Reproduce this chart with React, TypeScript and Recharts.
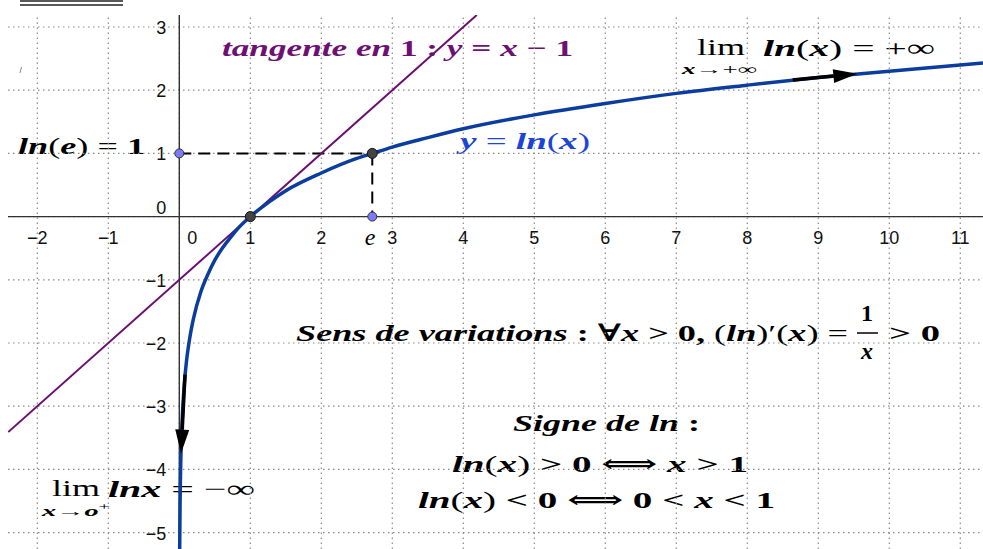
import React from 'react';
import {
  ComposedChart, Line, XAxis, YAxis, ReferenceLine, ReferenceDot,
} from 'recharts';

// ln curve
const lnX = [0.005, 0.01, 0.02, 0.03, 0.05, 0.075, 0.1, 0.15, 0.2, 0.3, 0.4, 0.5, 0.6, 0.7, 0.8, 1, 1.25, 1.5, 2, 2.5, 2.72, 3, 3.5, 4, 5, 6, 7, 8, 9, 10, 11, 11.32];
const lnY = [-5.3, -4.61, -3.91, -3.51, -3.0, -2.59, -2.3, -1.9, -1.61, -1.2, -0.92, -0.69, -0.51, -0.36, -0.22, 0, 0.22, 0.41, 0.69, 0.92, 1, 1.1, 1.25, 1.39, 1.61, 1.79, 1.95, 2.08, 2.2, 2.3, 2.4, 2.43];

// tangent at 1
const tanX = [-2.41, 4.19];
const tanY = [-3.41, 3.19];

// grid / ticks
const xTicks = [-2, -1, 0, 1, 2, 3, 4, 5, 6, 7, 8, 9, 10, 11];
const xTickLabels = ['−2', '−1', '0', '1', '2', '3', '4', '5', '6', '7', '8', '9', '10', '11'];
const yTicks = [-5, -4, -3, -2, -1, 0, 1, 2, 3];
const yTickLabels = ['−5', '−4', '−3', '−2', '−1', '0', '1', '2', '3'];

// marked points
const blueDotsX = [0, 2.718];
const blueDotsY = [1, 0];
const darkDotsX = [1, 2.718];
const darkDotsY = [0, 1];

// dashed guides to (e, 1)
const eX = 2.718;
const eY = 1;

// arrows [from, to]
const arrowsFromX = [8.64, 0.08];
const arrowsFromY = [2.16, -2.5];
const arrowsToX = [9.55, 0.024];
const arrowsToY = [2.26, -3.75];

const lnData = lnX.map((x, i) => ({ x, y: lnY[i] }));
const tanData = tanX.map((x, i) => ({ x, y: tanY[i] }));

const W = 983;
const H = 549;
const SERIF = "'Liberation Serif', 'DejaVu Serif', serif";
const SANS = "'Liberation Sans', Arial, sans-serif";

const Arrow = (props: any) => {
  const { x1, y1, x2, y2 } = props;
  const a = Math.atan2(y2 - y1, x2 - x1);
  const len = 24;
  const wid = 7;
  const bx = x2 - len * Math.cos(a);
  const by = y2 - len * Math.sin(a);
  const px = -Math.sin(a) * wid;
  const py = Math.cos(a) * wid;
  return (
    <g>
      <line x1={x1} y1={y1} x2={bx} y2={by} stroke="#000" strokeWidth={3.5} />
      <polygon points={`${x2},${y2} ${bx + px},${by + py} ${bx - px},${by - py}`} fill="#000" />
    </g>
  );
};

const Bi = ({ children }: any) => <tspan fontStyle="italic" fontWeight="bold">{children}</tspan>;
const B = ({ children }: any) => <tspan fontStyle="normal" fontWeight="bold">{children}</tspan>;

const Annotations = () => (
  <svg width={W} height={H} style={{ position: 'absolute', left: 0, top: 0 }} fontFamily={SERIF}>
    {/* top-left leftovers */}
    <line x1={20} y1={1} x2={123} y2={1} stroke="#222" strokeWidth={1.5} />
    <line x1={20} y1={5} x2={123} y2={5} stroke="#222" strokeWidth={1.5} />
    <line x1={20} y1={73} x2={21.5} y2={67} stroke="#888" strokeWidth={1} />

    <text x={222} y={56} fontSize={23} fill="#6e0f74" textLength={351} lengthAdjust="spacingAndGlyphs">
      <Bi>tangente en </Bi><B>1 : </B><Bi>y</Bi><B> = </B><Bi>x</Bi><B> − 1</B>
    </text>

    <text x={697} y={55} fontSize={24} textLength={48} lengthAdjust="spacingAndGlyphs">lim</text>
    <text x={682} y={74} fontSize={14} textLength={75} lengthAdjust="spacingAndGlyphs">
      <tspan fontStyle="italic" fontWeight="bold">x</tspan>→+∞
    </text>
    <text x={763} y={56} fontSize={24} textLength={172} lengthAdjust="spacingAndGlyphs">
      <Bi>ln</Bi><tspan>(</tspan><Bi>x</Bi><tspan>) = +∞</tspan>
    </text>

    <text x={460} y={149} fontSize={24} fill="#1c45d8" textLength={130} lengthAdjust="spacingAndGlyphs">
      <Bi>y</Bi><tspan> = </tspan><Bi>ln</Bi><tspan>(</tspan><Bi>x</Bi><tspan>)</tspan>
    </text>

    <text x={18} y={154} fontSize={24} textLength={127} lengthAdjust="spacingAndGlyphs">
      <Bi>ln</Bi><tspan>(</tspan><Bi>e</Bi><tspan>) = </tspan><B>1</B>
    </text>

    <text x={370} y={245} fontSize={24} fontStyle="italic" textAnchor="middle">e</text>

    <text x={296} y={341} fontSize={24} textLength={552} lengthAdjust="spacingAndGlyphs">
      <Bi>Sens de variations</Bi><B> : ∀</B><Bi>x</Bi><B> &gt; 0, </B><tspan>(</tspan><Bi>ln</Bi><tspan>)′(</tspan><Bi>x</Bi><tspan>) =</tspan>
    </text>
    <text x={867} y={321} fontSize={24} fontWeight="bold" textAnchor="middle">1</text>
    <line x1={857} y1={333} x2={878} y2={333} stroke="#000" strokeWidth={1.5} />
    <text x={867} y={359} fontSize={24} fontWeight="bold" fontStyle="italic" textAnchor="middle">x</text>
    <text x={889} y={341} fontSize={24} fontWeight="bold" textLength={51} lengthAdjust="spacingAndGlyphs">&gt; 0</text>

    <text x={513} y={431} fontSize={24} textLength={187} lengthAdjust="spacingAndGlyphs">
      <Bi>Signe de ln</Bi><B> :</B>
    </text>
    <text x={452} y={472} fontSize={24} textLength={296} lengthAdjust="spacingAndGlyphs">
      <Bi>ln</Bi><tspan>(</tspan><Bi>x</Bi><tspan>) </tspan><B>&gt; 0 ⟺ </B><Bi>x</Bi><B> &gt; 1</B>
    </text>
    <text x={418} y={508} fontSize={24} textLength={357} lengthAdjust="spacingAndGlyphs">
      <Bi>ln</Bi><tspan>(</tspan><Bi>x</Bi><tspan>) </tspan><B>&lt; 0 ⟺ 0 &lt; </B><Bi>x</Bi><B> &lt; 1</B>
    </text>

    <text x={52} y={496} fontSize={24} textLength={48} lengthAdjust="spacingAndGlyphs">lim</text>
    <text x={42} y={516} fontSize={14} textLength={68} lengthAdjust="spacingAndGlyphs">
      <tspan fontStyle="italic" fontWeight="bold">x</tspan>→<tspan fontStyle="italic" fontWeight="bold">o</tspan><tspan dy={-6} fontSize={10}>+</tspan>
    </text>
    <text x={108} y={497} fontSize={24} textLength={147} lengthAdjust="spacingAndGlyphs">
      <Bi>lnx</Bi><tspan> = −∞</tspan>
    </text>
  </svg>
);

export default function App() {
  return (
    <div style={{ position: 'relative', width: W, height: H, background: '#fff' }}>
      <style>{'body{margin:0}'}</style>
      <Annotations />
      <div style={{ position: 'absolute', left: 0, top: 0, zIndex: 1 }}>
        <ComposedChart width={W} height={H} margin={{ top: 15, right: 0, left: 8, bottom: 0 }}>
          <XAxis type="number" dataKey="x" domain={[-2.413, 11.32]} allowDataOverflow hide />
          <YAxis type="number" dataKey="y" domain={[-5.26, 3.19]} allowDataOverflow hide />

          {xTicks.map((t) => (
            <ReferenceLine key={'gx' + t} x={t} stroke="#8a8a8a" strokeWidth={1.2} strokeDasharray="1.5 3.5" />
          ))}
          {yTicks.map((t) => (
            <ReferenceLine key={'gy' + t} y={t} stroke="#8a8a8a" strokeWidth={1.2} strokeDasharray="1.5 3.5" />
          ))}
          <ReferenceLine x={0} stroke="#333" strokeWidth={1.4} />
          <ReferenceLine y={0} stroke="#333" strokeWidth={1.4} />

          {xTicks.map((t, i) => (
            <ReferenceDot key={'lx' + t} x={t} y={0} r={0} ifOverflow="visible"
              shape={(p: any) => (
                <text x={p.cx + (t === 0 ? 13 : 0)} y={p.cy + 27} textAnchor="middle" fontFamily={SANS} fontSize={18} fill="#111">
                  {xTickLabels[i]}
                </text>
              )}
            />
          ))}
          {yTicks.map((t, i) => (
            <ReferenceDot key={'ly' + t} x={0} y={t} r={0} ifOverflow="visible"
              shape={(p: any) => (
                <text x={p.cx - 13} y={p.cy + (t === 0 ? -3 : 7)} textAnchor="end" fontFamily={SANS} fontSize={18} fill="#111">
                  {yTickLabels[i]}
                </text>
              )}
            />
          ))}

          <ReferenceLine segment={[{ x: 0, y: eY }, { x: eX, y: eY }]} stroke="#000" strokeWidth={2} strokeDasharray="12 7" />
          <ReferenceLine segment={[{ x: eX, y: eY }, { x: eX, y: 0 }]} stroke="#000" strokeWidth={2} strokeDasharray="12 7" />

          <Line data={tanData} dataKey="y" type="linear" stroke="#6c1070" strokeWidth={2} dot={false} isAnimationActive={false} />
          <Line data={lnData} dataKey="y" type="monotone" stroke="#0b3d9e" strokeWidth={3.5} dot={false} isAnimationActive={false} />

          {arrowsFromX.map((x, i) => (
            <ReferenceLine key={'ar' + i} segment={[{ x, y: arrowsFromY[i] }, { x: arrowsToX[i], y: arrowsToY[i] }]}
              ifOverflow="visible" shape={Arrow} />
          ))}

          {blueDotsX.map((x, i) => (
            <ReferenceDot key={'bd' + i} x={x} y={blueDotsY[i]} r={4.5} fill="#7b7bff" stroke="#333" strokeWidth={1} ifOverflow="visible" />
          ))}
          {darkDotsX.map((x, i) => (
            <ReferenceDot key={'dd' + i} x={x} y={darkDotsY[i]} r={5} fill="#444" stroke="#111" strokeWidth={1} ifOverflow="visible" />
          ))}
        </ComposedChart>
      </div>
    </div>
  );
}
